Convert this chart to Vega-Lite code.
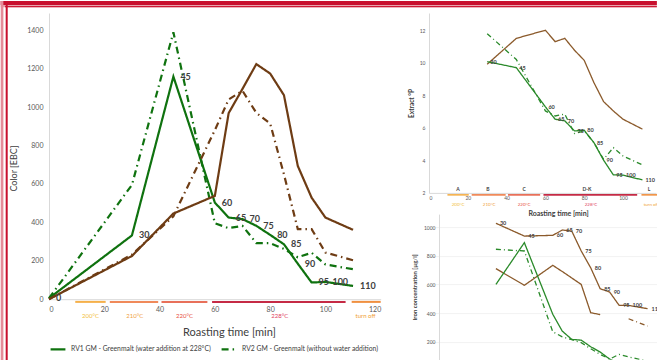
{
  "$schema": "https://vega.github.io/schema/vega-lite/v6.json",
  "padding": 0,
  "background": "white",
  "bounds": "flush",
  "spacing": 48,
  "config": {
    "view": {"stroke": null},
    "font": "Lato",
    "axis": {"grid": false, "ticks": false, "domainColor": "#d9d9d9", "labelColor": "#595959", "titleColor": "#404040", "titleFontWeight": "normal", "labelOverlap": false, "format": "d", "tickCount": 12}
  },
  "datasets": {
    "color": [
      {"s": "G1", "t": 0, "v": 5}, {"s": "G1", "t": 30, "v": 332}, {"s": "G1", "t": 45, "v": 1159}, {"s": "G1", "t": 60, "v": 503},
      {"s": "G1", "t": 65, "v": 425}, {"s": "G1", "t": 70, "v": 417}, {"s": "G1", "t": 75, "v": 382}, {"s": "G1", "t": 80, "v": 335},
      {"s": "G1", "t": 85, "v": 286}, {"s": "G1", "t": 90, "v": 185}, {"s": "G1", "t": 95, "v": 87}, {"s": "G1", "t": 100, "v": 90},
      {"s": "G1", "t": 110, "v": 69},
      {"s": "G2", "t": 0, "v": 5}, {"s": "G2", "t": 30, "v": 595}, {"s": "G2", "t": 45, "v": 1390}, {"s": "G2", "t": 60, "v": 395},
      {"s": "G2", "t": 65, "v": 370}, {"s": "G2", "t": 70, "v": 382}, {"s": "G2", "t": 75, "v": 292}, {"s": "G2", "t": 80, "v": 292},
      {"s": "G2", "t": 85, "v": 262}, {"s": "G2", "t": 90, "v": 218}, {"s": "G2", "t": 95, "v": 242}, {"s": "G2", "t": 100, "v": 181},
      {"s": "G2", "t": 110, "v": 156},
      {"s": "B1", "t": 0, "v": 0}, {"s": "B1", "t": 30, "v": 225}, {"s": "B1", "t": 45, "v": 446}, {"s": "B1", "t": 60, "v": 538},
      {"s": "B1", "t": 65, "v": 969}, {"s": "B1", "t": 70, "v": 1095}, {"s": "B1", "t": 75, "v": 1224}, {"s": "B1", "t": 80, "v": 1175},
      {"s": "B1", "t": 85, "v": 1062}, {"s": "B1", "t": 90, "v": 694}, {"s": "B1", "t": 95, "v": 529}, {"s": "B1", "t": 100, "v": 425},
      {"s": "B1", "t": 110, "v": 361},
      {"s": "B2", "t": 0, "v": 0}, {"s": "B2", "t": 30, "v": 232}, {"s": "B2", "t": 45, "v": 432}, {"s": "B2", "t": 60, "v": 880},
      {"s": "B2", "t": 65, "v": 1040}, {"s": "B2", "t": 70, "v": 1085}, {"s": "B2", "t": 75, "v": 970}, {"s": "B2", "t": 80, "v": 915},
      {"s": "B2", "t": 85, "v": 650}, {"s": "B2", "t": 90, "v": 365}, {"s": "B2", "t": 95, "v": 365}, {"s": "B2", "t": 100, "v": 243},
      {"s": "B2", "t": 110, "v": 203}
    ],
    "extract": [
      {"s": "B1", "t": 30, "v": 9.91}, {"s": "B1", "t": 45, "v": 11.5}, {"s": "B1", "t": 60, "v": 12.0}, {"s": "B1", "t": 65, "v": 11.3},
      {"s": "B1", "t": 70, "v": 11.5}, {"s": "B1", "t": 75, "v": 10.77}, {"s": "B1", "t": 80, "v": 10.15}, {"s": "B1", "t": 85, "v": 8.78},
      {"s": "B1", "t": 90, "v": 7.61}, {"s": "B1", "t": 95, "v": 7.04}, {"s": "B1", "t": 100, "v": 6.53}, {"s": "B1", "t": 110, "v": 5.92},
      {"s": "G1", "t": 30, "v": 10.07}, {"s": "G1", "t": 45, "v": 9.7}, {"s": "G1", "t": 60, "v": 7.29}, {"s": "G1", "t": 65, "v": 6.53},
      {"s": "G1", "t": 70, "v": 6.43}, {"s": "G1", "t": 75, "v": 5.81}, {"s": "G1", "t": 80, "v": 5.85}, {"s": "G1", "t": 85, "v": 5.09},
      {"s": "G1", "t": 90, "v": 4.01}, {"s": "G1", "t": 95, "v": 3.11}, {"s": "G1", "t": 100, "v": 3.09}, {"s": "G1", "t": 110, "v": 2.8},
      {"s": "G2", "t": 30, "v": 11.79}, {"s": "G2", "t": 45, "v": 10.2}, {"s": "G2", "t": 60, "v": 7.04}, {"s": "G2", "t": 65, "v": 6.73},
      {"s": "G2", "t": 70, "v": 6.84}, {"s": "G2", "t": 75, "v": 5.65}, {"s": "G2", "t": 80, "v": 5.81}, {"s": "G2", "t": 85, "v": 5.09},
      {"s": "G2", "t": 90, "v": 4.07}, {"s": "G2", "t": 95, "v": 4.78}, {"s": "G2", "t": 100, "v": 4.27}, {"s": "G2", "t": 110, "v": 3.72}
    ],
    "iron": [
      {"s": "B1", "t": 30, "v": 1026}, {"s": "B1", "t": 45, "v": 937}, {"s": "B1", "t": 60, "v": 942}, {"s": "B1", "t": 65, "v": 979},
      {"s": "B1", "t": 70, "v": 972}, {"s": "B1", "t": 75, "v": 833}, {"s": "B1", "t": 80, "v": 716}, {"s": "B1", "t": 85, "v": 570},
      {"s": "B1", "t": 90, "v": 547}, {"s": "B1", "t": 95, "v": 454}, {"s": "B1", "t": 100, "v": 454}, {"s": "B1", "t": 110, "v": 431},
      {"s": "B2", "t": 30, "v": 710}, {"s": "B2", "t": 45, "v": 594}, {"s": "B2", "t": 60, "v": 733}, {"s": "B2", "t": 65, "v": 690},
      {"s": "B2", "t": 70, "v": 645}, {"s": "B2", "t": 75, "v": 600}, {"s": "B2", "t": 80, "v": 403}, {"s": "B2", "t": 85, "v": 390},
      {"s": "B2b", "t": 100, "v": 361}, {"s": "B2b", "t": 110, "v": 310},
      {"s": "G1", "t": 30, "v": 600}, {"s": "G1", "t": 45, "v": 891}, {"s": "G1", "t": 60, "v": 392}, {"s": "G1", "t": 65, "v": 275},
      {"s": "G1", "t": 70, "v": 217}, {"s": "G1", "t": 75, "v": 212}, {"s": "G1", "t": 80, "v": 166}, {"s": "G1", "t": 85, "v": 129},
      {"s": "G1", "t": 90, "v": 80}, {"s": "G1", "t": 95, "v": 50}, {"s": "G1", "t": 100, "v": 40}, {"s": "G1", "t": 110, "v": 25},
      {"s": "G2", "t": 30, "v": 845}, {"s": "G2", "t": 45, "v": 833}, {"s": "G2", "t": 60, "v": 270}, {"s": "G2", "t": 65, "v": 235},
      {"s": "G2", "t": 70, "v": 215}, {"s": "G2", "t": 75, "v": 194}, {"s": "G2", "t": 80, "v": 152}, {"s": "G2", "t": 85, "v": 113},
      {"s": "G2", "t": 90, "v": 80}, {"s": "G2", "t": 95, "v": 113}, {"s": "G2", "t": 100, "v": 95}, {"s": "G2", "t": 110, "v": 66}
    ],
    "temps": [
      {"k": "200°C", "a": 9.5, "b": 20.5, "m": 15},
      {"k": "210°C", "a": 22, "b": 39.5, "m": 31},
      {"k": "220°C", "a": 40.7, "b": 57.3, "m": 49},
      {"k": "228°C", "a": 59, "b": 107.3, "m": 83.5},
      {"k": "turn off", "a": 109.5, "b": 120, "m": 114.5}
    ],
    "phases": [
      {"p": "A", "t": 15}, {"p": "B", "t": 30.4}, {"p": "C", "t": 49}, {"p": "D-K", "t": 81.4}, {"p": "L", "t": 113.4}
    ]
  },
  "hconcat": [
    {
      "width": 331.7,
      "height": 286.2,
      "resolve": {"scale": {"color": "independent", "strokeDash": "independent"}},
      "layer": [
        {"data": {"values": [{}]}, "mark": {"type": "rect", "color": "#e9a3ad"}, "encoding": {"x": {"datum": -17.47, "type": "quantitative"}, "x2": {"datum": 219.9}, "y": {"datum": 1553, "type": "quantitative"}, "y2": {"datum": 1520}}},
        {"data": {"values": [{}]}, "mark": {"type": "rect", "color": "#c8102e"}, "encoding": {"x": {"datum": -17.47, "type": "quantitative"}, "x2": {"datum": 219.9}, "y": {"datum": 1553, "type": "quantitative"}, "y2": {"datum": 1532}}},
        {"data": {"values": [{}]}, "mark": {"type": "rect", "color": "#cc1a36"}, "encoding": {"x": {"datum": -15.9, "type": "quantitative"}, "x2": {"datum": 219.9}, "y": {"datum": 1527, "type": "quantitative"}, "y2": {"datum": 1520}}},
        {"data": {"values": [{}]}, "mark": {"type": "rect", "color": "#e58c99"}, "encoding": {"x": {"datum": -17.47, "type": "quantitative"}, "x2": {"datum": -16.5}, "y": {"datum": 1553, "type": "quantitative"}, "y2": {"datum": -330}}},
        {"data": {"values": [{}]}, "mark": {"type": "rect", "color": "#c8102e"}, "encoding": {"x": {"datum": -15.67, "type": "quantitative"}, "x2": {"datum": -14.94}, "y": {"datum": 1553, "type": "quantitative"}, "y2": {"datum": -330}}},
        {
          "data": {"name": "color"},
          "mark": {"type": "line", "strokeWidth": 2.2},
          "encoding": {
            "x": {"field": "t", "type": "quantitative", "scale": {"domain": [0, 120], "nice": false},
              "axis": {"values": [0, 20, 40, 60, 80, 100, 120], "labelFontSize": 7, "labelPadding": 6, "labelOverlap": false, "title": "Roasting time [min]", "titleFontSize": 11, "titlePadding": 14, "titleX": 180}},
            "y": {"field": "v", "type": "quantitative", "scale": {"domain": [0, 1490], "nice": false},
              "axis": {"values": [0, 200, 400, 600, 800, 1000, 1200, 1400], "labelFontSize": 7, "labelPadding": 6, "labelOverlap": false, "title": "Color [EBC]", "titleFontSize": 9, "titlePadding": 8, "titleY": 155}},
            "color": {"field": "s", "type": "nominal", "scale": {"domain": ["G1", "G2", "B1", "B2"], "range": ["#0f720f", "#0f720f", "#6e3c14", "#6e3c14"]},
              "legend": {"values": ["G1", "G2"], "orient": "bottom", "direction": "horizontal", "title": null, "offset": 2, "labelFontSize": 6.8, "labelColor": "#404040", "symbolSize": 220, "symbolStrokeWidth": 2.2, "columnPadding": 4,
                "labelExpr": "datum.label == 'G1' ? 'RV1 GM - Greenmalt (water addition at  228°C)' : 'RV2 GM - Greenmalt (without water addition)'"}},
            "strokeDash": {"field": "s", "type": "nominal", "scale": {"domain": ["G1", "G2", "B1", "B2"], "range": [[1, 0], [7, 4, 1.5, 4], [1, 0], [7, 4, 1.5, 4]]},
              "legend": {"values": ["G1", "G2"]}}
          }
        },
        {
          "data": {"name": "color"},
          "transform": [{"filter": "datum.s == 'G1'"}],
          "mark": {"type": "text", "align": "left", "baseline": "middle", "dx": 7, "fontSize": 9, "fontWeight": "bold", "color": "#404040"},
          "encoding": {"x": {"field": "t", "type": "quantitative"}, "y": {"field": "v", "type": "quantitative"}, "text": {"field": "t", "type": "quantitative", "format": "d"}}
        },
        {
          "data": {"name": "temps"},
          "mark": {"type": "rule", "strokeWidth": 2},
          "encoding": {"x": {"field": "a", "type": "quantitative"}, "x2": {"field": "b"}, "y": {"datum": -14, "type": "quantitative"},
            "color": {"field": "k", "type": "nominal", "scale": {"domain": ["200°C", "210°C", "220°C", "228°C", "turn off"], "range": ["#f5b04a", "#f08a5a", "#e8705a", "#c52a45", "#f09040"]}, "legend": null}}
        },
        {
          "data": {"name": "temps"},
          "mark": {"type": "text", "fontSize": 6, "baseline": "middle"},
          "encoding": {"x": {"field": "m", "type": "quantitative"}, "y": {"datum": -86, "type": "quantitative"}, "text": {"field": "k"},
            "color": {"field": "k", "type": "nominal", "scale": {"domain": ["200°C", "210°C", "220°C", "228°C", "turn off"], "range": ["#f2c03c", "#f0a040", "#e85040", "#e04060", "#f0a030"]}, "legend": null}}
        }
      ]
    },
    {
      "vconcat": [
        {
          "width": 227,
          "height": 179.9,
          "resolve": {"scale": {"color": "independent"}},
          "layer": [
            {
              "data": {"name": "extract"},
              "mark": {"type": "line", "strokeWidth": 1.3},
              "encoding": {
                "x": {"field": "t", "type": "quantitative", "scale": {"domain": [0, 117], "nice": false},
                  "axis": {"values": [0, 20, 40, 60, 80, 100], "tickCount": 12, "labelFontSize": 5, "labelPadding": 3, "labelOverlap": false, "title": "Roasting time [min]", "titleFontSize": 7, "titleFontWeight": "bold", "titleColor": "#404040", "titlePadding": 9, "titleX": 129}},
                "y": {"field": "v", "type": "quantitative", "scale": {"domain": [2, 13.06], "nice": false},
                  "axis": {"values": [2, 4, 6, 8, 10, 12], "tickCount": 12, "labelFontSize": 5, "labelPadding": 4, "labelOverlap": false, "title": "Extract °P", "titleFontSize": 6.5, "titleFontWeight": "bold", "titlePadding": 5}},
                "color": {"field": "s", "type": "nominal", "scale": {"domain": ["G1", "G2", "B1"], "range": ["#2a8a2a", "#2a8a2a", "#8b5a2b"]}, "legend": null},
                "strokeDash": {"field": "s", "type": "nominal", "scale": {"domain": ["G1", "G2", "B1"], "range": [[1, 0], [5, 3, 1, 3], [1, 0]]}, "legend": null}
              }
            },
            {
              "data": {"name": "extract"},
              "transform": [{"filter": "datum.s == 'G1'"}],
              "mark": {"type": "text", "align": "left", "baseline": "middle", "dx": 3, "fontSize": 5.5, "fontWeight": "bold", "color": "#404040"},
              "encoding": {"x": {"field": "t", "type": "quantitative"}, "y": {"field": "v", "type": "quantitative"}, "text": {"field": "t", "type": "quantitative", "format": "d"}}
            },
            {
              "data": {"name": "phases"},
              "mark": {"type": "text", "baseline": "middle", "fontSize": 5, "fontWeight": "bold", "color": "#404040"},
              "encoding": {"x": {"field": "t", "type": "quantitative"}, "y": {"datum": 2.25, "type": "quantitative"}, "text": {"field": "p"}}
            },
            {
              "data": {"name": "temps"},
              "mark": {"type": "rule", "strokeWidth": 1.6},
              "encoding": {"x": {"field": "a", "type": "quantitative"}, "x2": {"field": "b"}, "y": {"datum": 1.88, "type": "quantitative"},
                "color": {"field": "k", "type": "nominal", "scale": {"domain": ["200°C", "210°C", "220°C", "228°C", "turn off"], "range": ["#f5b04a", "#f08a5a", "#e8705a", "#c52a45", "#f09040"]}, "legend": null}}
            },
            {
              "data": {"name": "temps"},
              "mark": {"type": "text", "fontSize": 4.5, "baseline": "middle"},
              "encoding": {"x": {"field": "m", "type": "quantitative"}, "y": {"datum": 1.26, "type": "quantitative"}, "text": {"field": "k"},
                "color": {"field": "k", "type": "nominal", "scale": {"domain": ["200°C", "210°C", "220°C", "228°C", "turn off"], "range": ["#f2c03c", "#f0a040", "#e85040", "#e04060", "#f0a030"]}, "legend": null}}
            }
          ]
        },
        {
          "width": 229,
          "height": 145.7,
          "layer": [
            {
              "data": {"name": "iron"},
              "mark": {"type": "line", "strokeWidth": 1.3, "clip": true},
              "encoding": {
                "x": {"field": "t", "type": "quantitative", "scale": {"domain": [-5.3, 115.5], "nice": false}, "axis": null},
                "y": {"field": "v", "type": "quantitative", "scale": {"domain": [75, 1090], "nice": false},
                  "axis": {"values": [200, 400, 600, 800, 1000], "tickCount": 12, "offset": -10, "grid": true, "gridColor": "#f2f2f2", "labelFontSize": 5, "labelPadding": 4, "labelOverlap": false, "title": "Iron concentration [µg/l]", "titleFontSize": 6, "titleFontWeight": "bold", "titlePadding": 6}},
                "color": {"field": "s", "type": "nominal", "scale": {"domain": ["G1", "G2", "B1", "B2", "B2b"], "range": ["#2a8a2a", "#2a8a2a", "#8b5a2b", "#8b5a2b", "#8b5a2b"]}, "legend": null},
                "strokeDash": {"field": "s", "type": "nominal", "scale": {"domain": ["G1", "G2", "B1", "B2", "B2b"], "range": [[1, 0], [5, 3, 1, 3], [1, 0], [5, 3, 1, 3], [5, 3, 1, 3]]}, "legend": null}
              }
            },
            {
              "data": {"name": "iron"},
              "transform": [{"filter": "datum.s == 'B1'"}],
              "mark": {"type": "text", "align": "left", "baseline": "middle", "dx": 4, "fontSize": 5.5, "fontWeight": "bold", "color": "#404040", "clip": true},
              "encoding": {"x": {"field": "t", "type": "quantitative"}, "y": {"field": "v", "type": "quantitative"}, "text": {"field": "t", "type": "quantitative", "format": "d"}}
            }
          ]
        }
      ],
      "spacing": 21.1,
      "bounds": "flush"
    }
  ]
}
